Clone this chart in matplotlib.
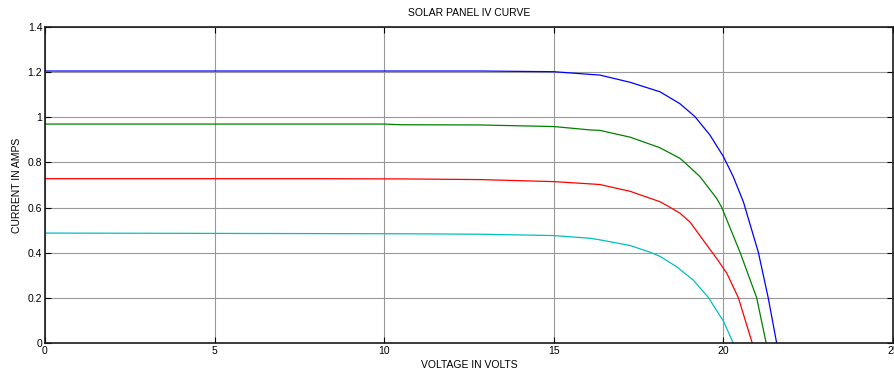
import matplotlib
matplotlib.use("Agg")
import matplotlib.pyplot as plt

# Data (voltage in V, current in A)
blue_v = [0, 10, 12.82, 15, 16.07, 16.36, 17.25, 18.13, 18.72, 19.16, 19.6, 20.0, 20.29, 20.59, 21.03, 21.32, 21.57]
blue_i = [1.205, 1.205, 1.205, 1.202, 1.19, 1.187, 1.155, 1.113, 1.06, 1.003, 0.922, 0.826, 0.737, 0.625, 0.402, 0.201, 0.0]

green_v = [0, 10, 10.5, 12.82, 15, 16.07, 16.36, 17.25, 18.13, 18.72, 18.82, 19.31, 19.8, 19.95, 20.49, 20.98, 21.26]
green_i = [0.97, 0.97, 0.967, 0.966, 0.959, 0.944, 0.942, 0.912, 0.865, 0.818, 0.805, 0.737, 0.641, 0.601, 0.402, 0.201, 0.0]

red_v = [0, 8, 10.47, 12.82, 15, 16.07, 16.36, 17.25, 18.13, 18.43, 18.72, 19.02, 19.51, 19.8, 20.1, 20.44, 20.85]
red_i = [0.728, 0.728, 0.727, 0.724, 0.715, 0.705, 0.702, 0.672, 0.626, 0.601, 0.575, 0.535, 0.434, 0.375, 0.309, 0.201, 0.0]

cyan_v = [0, 10.47, 12.82, 15, 16.07, 16.36, 17.25, 17.84, 18.13, 18.62, 19.11, 19.56, 20.0, 20.29]
cyan_i = [0.487, 0.484, 0.482, 0.476, 0.464, 0.457, 0.432, 0.402, 0.384, 0.338, 0.279, 0.201, 0.097, 0.0]

x_ticks = [0, 5, 10, 15, 20, 25]
y_ticks = [0, 0.2, 0.4, 0.6, 0.8, 1.0, 1.2, 1.4]
y_tick_labels = ["0", "0.2", "0.4", "0.6", "0.8", "1", "1.2", "1.4"]

plt.rcParams['font.family'] = ['Liberation Sans', 'DejaVu Sans']

fig = plt.figure(figsize=(8.94, 3.79), dpi=100)
ax = fig.add_axes([45/894, 36/379, 848/894, 316/379])

lw = 0.9
ax.plot(blue_v, blue_i, color='#0000ff', lw=lw)
ax.plot(green_v, green_i, color='#008000', lw=lw)
ax.plot(red_v, red_i, color='#ff0000', lw=lw)
ax.plot(cyan_v, cyan_i, color='#00bfbf', lw=lw)

ax.set_xlim(0, 25)
ax.set_ylim(0, 1.4)
ax.set_xticks(x_ticks)
ax.set_xticklabels([str(t) for t in x_ticks])
ax.set_yticks(y_ticks)
ax.set_yticklabels(y_tick_labels)

ax.grid(True, color='#999999', lw=0.8, ls='-')
ax.set_axisbelow(True)
ax.tick_params(direction='in', top=True, right=True, length=4, width=0.8,
               labelsize=7.5, pad=2, colors='black')
for s in ax.spines.values():
    s.set_linewidth(1.2)
    s.set_color('#1a1a1a')

ax.set_title("SOLAR PANEL IV CURVE", fontsize=7.5, pad=8)
ax.set_xlabel("VOLTAGE IN VOLTS", fontsize=7.5, labelpad=3)
ax.set_ylabel("CURRENT IN AMPS", fontsize=7.5, labelpad=4)

fig.savefig("out.png", dpi=100)
